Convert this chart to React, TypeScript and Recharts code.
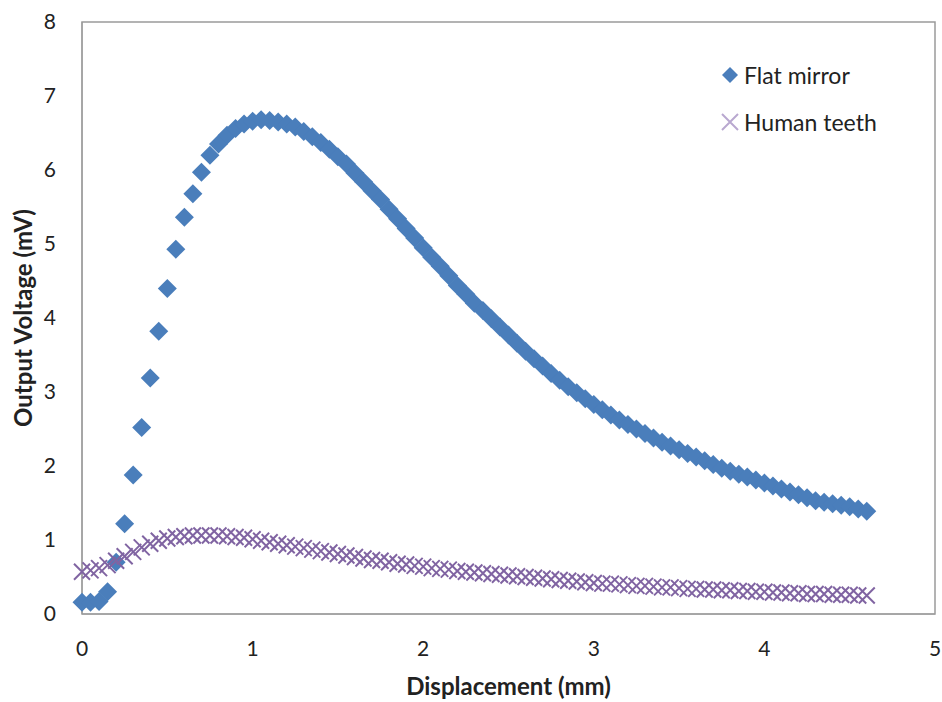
import { ScatterChart, Scatter, XAxis, YAxis, Legend, ReferenceArea, Label } from "recharts";

// Displacement steps (mm)
const DISPLACEMENT = [
  0, 0.05, 0.1, 0.15, 0.2, 0.25, 0.3, 0.35, 0.4, 0.45,
  0.5, 0.55, 0.6, 0.65, 0.7, 0.75, 0.8, 0.85, 0.9, 0.95,
  1.0, 1.05, 1.1, 1.15, 1.2, 1.25, 1.3, 1.35, 1.4, 1.45,
  1.5, 1.55, 1.6, 1.65, 1.7, 1.75, 1.8, 1.85, 1.9, 1.95,
  2.0, 2.05, 2.1, 2.15, 2.2, 2.25, 2.3, 2.35, 2.4, 2.45,
  2.5, 2.55, 2.6, 2.65, 2.7, 2.75, 2.8, 2.85, 2.9, 2.95,
  3.0, 3.05, 3.1, 3.15, 3.2, 3.25, 3.3, 3.35, 3.4, 3.45,
  3.5, 3.55, 3.6, 3.65, 3.7, 3.75, 3.8, 3.85, 3.9, 3.95,
  4.0, 4.05, 4.1, 4.15, 4.2, 4.25, 4.3, 4.35, 4.4, 4.45,
  4.5, 4.55, 4.6,
];

// Output voltage (mV), flat mirror target
const FLAT_MIRROR = [
  0.16, 0.16, 0.17, 0.3, 0.7, 1.22, 1.88, 2.52, 3.19, 3.82,
  4.4, 4.93, 5.36, 5.68, 5.97, 6.2, 6.35, 6.47, 6.56, 6.62,
  6.66, 6.68, 6.67, 6.65, 6.62, 6.58, 6.52, 6.45, 6.37, 6.28,
  6.18, 6.08, 5.96, 5.84, 5.72, 5.6, 5.47, 5.34, 5.21, 5.08,
  4.95, 4.82, 4.7, 4.57, 4.44, 4.32, 4.2, 4.1, 3.99, 3.88,
  3.77, 3.66, 3.55, 3.45, 3.35, 3.25, 3.16, 3.07, 2.99, 2.91,
  2.83, 2.76, 2.69, 2.62, 2.56, 2.5, 2.44, 2.38, 2.32, 2.27,
  2.22, 2.17, 2.12, 2.07, 2.02, 1.97, 1.93, 1.89, 1.85, 1.81,
  1.77, 1.73, 1.69, 1.65, 1.61, 1.57, 1.53, 1.51, 1.49, 1.47,
  1.45, 1.42, 1.39,
];

// Output voltage (mV), human teeth target
const HUMAN_TEETH = [
  0.57, 0.59, 0.62, 0.66, 0.72, 0.78, 0.84, 0.9, 0.95, 0.99,
  1.02, 1.04, 1.05, 1.06, 1.06, 1.06, 1.06, 1.05, 1.04, 1.03,
  1.01, 0.99, 0.97, 0.95, 0.93, 0.91, 0.89, 0.87, 0.85, 0.83,
  0.81, 0.79, 0.77, 0.75, 0.73, 0.72, 0.7, 0.68, 0.67, 0.65,
  0.64, 0.62, 0.61, 0.6, 0.58, 0.57, 0.56, 0.55, 0.54, 0.53,
  0.52, 0.51, 0.5, 0.49, 0.48, 0.47, 0.46, 0.45, 0.44, 0.43,
  0.42, 0.41, 0.41, 0.4, 0.39, 0.38, 0.38, 0.37, 0.36, 0.36,
  0.35, 0.34, 0.34, 0.33, 0.33, 0.32, 0.32, 0.31, 0.31, 0.3,
  0.3, 0.29, 0.29, 0.28, 0.28, 0.27, 0.27, 0.27, 0.26, 0.26,
  0.26, 0.25, 0.25,
];

const X_TICKS = [0, 1, 2, 3, 4, 5];
const Y_TICKS = [0, 1, 2, 3, 4, 5, 6, 7, 8];

const BLUE = "#4A7EBB";
const PURPLE = "#8064A2";
const FONT = "Lato, 'Open Sans', sans-serif";

const mirrorData = DISPLACEMENT.map((x, i) => ({ x, y: FLAT_MIRROR[i] }));
const teethData = DISPLACEMENT.map((x, i) => ({ x, y: HUMAN_TEETH[i] }));

const Diamond = ({ cx, cy, size = 9.5, fill = BLUE }: any) => (
  <path
    d={`M${cx},${cy - size}L${cx + size},${cy}L${cx},${cy + size}L${cx - size},${cy}Z`}
    fill={fill}
  />
);

const Cross = ({ cx, cy, size = 8, stroke = PURPLE }: any) => (
  <path
    d={`M${cx - size},${cy - size}L${cx + size},${cy + size}M${cx - size},${cy + size}L${cx + size},${cy - size}`}
    stroke={stroke}
    strokeWidth={2}
    fill="none"
  />
);

const LegendBox = () => (
  <div style={{ fontFamily: FONT, fontSize: 23, color: "#222" }}>
    <div style={{ display: "flex", alignItems: "center", height: 47 }}>
      <svg width={22} height={22}>
        <Diamond cx={11} cy={11} size={8} />
      </svg>
      <span style={{ marginLeft: 3 }}>Flat mirror</span>
    </div>
    <div style={{ display: "flex", alignItems: "center", height: 47 }}>
      <svg width={22} height={22}>
        <Cross cx={11} cy={11} size={8} stroke="#B9A8D0" />
      </svg>
      <span style={{ marginLeft: 3 }}>Human teeth</span>
    </div>
  </div>
);

export default function App() {
  const tick = { fontSize: 21, fill: "#222", fontFamily: FONT };
  return (
    <div style={{ position: "absolute", left: 0, top: 0, background: "#fff" }}>
      <ScatterChart width={942} height={702} margin={{ top: 22, right: 7, bottom: 0, left: 0 }}>
        <XAxis
          type="number"
          dataKey="x"
          domain={[0, 5]}
          ticks={X_TICKS}
          height={88}
          tickLine={false}
          tickSize={0}
          tickMargin={27}
          axisLine={{ stroke: "#9a9a9a" }}
          tick={tick}
        >
          <Label
            content={({ viewBox }: any) => (
              <text
                x={viewBox.x + viewBox.width / 2}
                y={viewBox.y + 81}
                textAnchor="middle"
                fontFamily={FONT}
                fontWeight="bold"
                fontSize={24}
                fill="#222"
              >
                Displacement (mm)
              </text>
            )}
          />
        </XAxis>
        <YAxis
          type="number"
          dataKey="y"
          domain={[0, 8]}
          ticks={Y_TICKS}
          width={82}
          tickLine={false}
          tickSize={0}
          tickMargin={26}
          axisLine={{ stroke: "#9a9a9a" }}
          tick={tick}
        >
          <Label
            content={({ viewBox }: any) => {
              const lx = viewBox.x + 22;
              const ly = viewBox.y + viewBox.height / 2;
              return (
                <text
                  x={lx}
                  y={ly}
                  transform={`rotate(-90 ${lx} ${ly})`}
                  textAnchor="middle"
                  dominantBaseline="central"
                  fontFamily={FONT}
                  fontWeight="bold"
                  fontSize={24}
                  fill="#222"
                >
                  Output Voltage (mV)
                </text>
              );
            }}
          />
        </YAxis>
        <ReferenceArea x1={0} x2={5} y1={0} y2={8} fill="none" stroke="#9a9a9a" strokeWidth={1.5} />
        <Scatter
          name="Flat mirror"
          data={mirrorData}
          fill={BLUE}
          shape={(p: any) => <Diamond cx={p.cx} cy={p.cy} />}
          isAnimationActive={false}
        />
        <Scatter
          name="Human teeth"
          data={teethData}
          fill={PURPLE}
          shape={(p: any) => <Cross cx={p.cx} cy={p.cy} />}
          isAnimationActive={false}
        />
        <Legend
          layout="vertical"
          align="center"
          verticalAlign="middle"
          content={() => <LegendBox />}
          wrapperStyle={{ position: "absolute", left: 719, top: 51, width: 220 }}
        />
      </ScatterChart>
    </div>
  );
}
